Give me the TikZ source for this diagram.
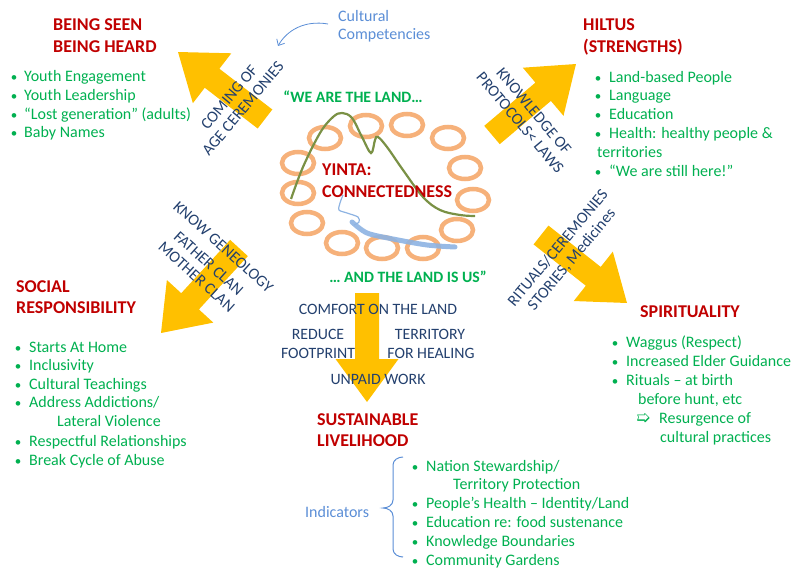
\documentclass[tikz,border=0pt]{standalone}
\usepackage{fontspec}
\setmainfont{Carlito}
\newfontfamily\symfont{DejaVu Sans}
\usetikzlibrary{calc,arrows.meta}
\definecolor{yel}{HTML}{FFC000}
\definecolor{hred}{HTML}{C00000}
\definecolor{grn}{HTML}{00B050}
\definecolor{navy}{HTML}{23406E}
\definecolor{lblue}{HTML}{5B8ED6}
\definecolor{ringc}{HTML}{F6B17A}
\definecolor{olivec}{HTML}{7A9145}
\definecolor{bluec}{HTML}{8DB3E2}
\tikzset{
  body/.style={text=grn, font=\fontsize{16}{19}\selectfont, inner sep=0pt, anchor=base west},
  bdot/.style={text=grn, font=\fontsize{13}{19}\selectfont, inner sep=0pt, anchor=base},
  head/.style={text=hred, font=\fontsize{18}{22}\selectfont\bfseries, inner sep=0pt, anchor=base west},
  rottxt/.style={text=navy, font=\fontsize{16}{18}\selectfont, inner sep=0pt, align=center},
  ctrtxt/.style={text=navy, font=\fontsize{15.8}{17}\selectfont, inner sep=0pt, anchor=base},
  quotetxt/.style={text=grn, font=\fontsize{15.8}{18}\selectfont\bfseries, inner sep=0pt, anchor=base},
  bluetxt/.style={text=lblue, font=\fontsize{16}{19}\selectfont, inner sep=0pt, anchor=base west},
  ring/.style={draw=ringc, line width=4.5pt},
  yarr/.style={fill=yel},
  ccarr/.style={draw=lblue, line width=0.8pt, -{Straight Barb[length=5pt,width=9pt]}},
  bracestyle/.style={draw=lblue, line width=1pt}
}
\newcommand\yarrow[2]{%
  \path let \p1=($(#2)-(#1)$) in \pgfextra{%
    \pgfmathsetmacro\yang{atan2(\y1,\x1)}%
    \pgfmathsetmacro\ylen{veclen(\x1,\y1)}%
    \global\let\yang\yang\global\let\ylen\ylen};
  \fill[yarr, shift={(#1)}, rotate=\yang]
    (0,12) -- ({\ylen-43},12) -- ({\ylen-43},31.5) -- (\ylen,0)
    -- ({\ylen-43},-31.5) -- ({\ylen-43},-12) -- (0,-12) -- cycle;}
\newcommand\bitem[5]{%
  \node[bdot] (#1b) at (#2,#4) {•};
  \node[body] (#1) at (#3,#4) {#5};}
\begin{document}
\begin{tikzpicture}[x=1pt,y=-1pt]
\useasboundingbox (0,0) rectangle (791,569);
% ---- yellow block arrows
\coordinate (t1) at (265,119); \coordinate (p1) at (178,52);
\coordinate (t2) at (492,135); \coordinate (p2) at (576,64);
\coordinate (t3) at (239,248); \coordinate (p3) at (161,333);
\coordinate (t4) at (541,235); \coordinate (p4) at (627,303);
\coordinate (t5) at (367,293); \coordinate (p5) at (367,402);
\yarrow{t1}{p1}
\yarrow{t2}{p2}
\yarrow{t3}{p3}
\yarrow{t4}{p4}
\yarrow{t5}{p5}
% ---- rings
\foreach \x/\y in {325/138, 366/126, 407/125, 448/138, 465/168, 473/200, 457/230,
                   423/248, 382/248, 342/243, 307/223, 298/193, 298/163}
  \draw[ring] (\x,\y) ellipse [x radius=16, y radius=11];
% ---- land curve
\draw[olivec, line width=2.2pt] plot[smooth, tension=0.6] coordinates {(291,199) (303,167) (320,133) (333,117) (342,113) (352,118) (362,137) (371,153) (375,140) (378,137) (387,147) (403,170) (423,197) (440,210) (460,215) (475,216)};
% ---- water
\draw[bluec, line width=1.2pt] plot[smooth] coordinates {(343,195) (340,203) (339,210) (347,213) (358,217) (359,222) (354,225)};
\draw[bluec, line width=5pt, line cap=round, opacity=.9] plot[smooth] coordinates {(352,222) (367,233) (393,239) (427,245) (455,247)};
% ---- centre texts
\node[quotetxt] (we) at (353,103) {“WE ARE THE LAND…};
\node[quotetxt] (us) at (408,282) {… AND THE LAND IS US”};
\node[head] (yinta) at (322,176) {YINTA:};
\node[head] (conn) at (322,198) {CONNECTEDNESS};
% ---- cultural competencies
\node[bluetxt] (cc1) at (338,22) {Cultural};
\node[bluetxt] (cc2) at (338,40) {Competencies};
\coordinate (ccs) at (328,24);
\coordinate (cce) at (278,46);
\draw[ccarr] (ccs) .. controls (305,20) and (287,30) .. (cce);
% ---- rotated texts
\node[rottxt, rotate=50] (coming) at (236,103) {COMING OF\\AGE CEREMONIES};
\node[rottxt, rotate=-50] (knowl) at (527,117) {KNOWLEDGE OF\\PROTOCOLS< LAWS};
\node[rottxt, rotate=-42] (geneo) at (210,262) {KNOW GENEOLOGY\\[4pt]FATHER CLAN\\MOTHER CLAN};
\node[rottxt, rotate=50] (ritual) at (565,254) {RITUALS/CEREMONIES\\STORIES, Medicines};
% ---- down arrow texts
\node[ctrtxt] (comfort) at (378,314) {COMFORT ON THE LAND};
\node[ctrtxt] (reduce) at (318,339) {REDUCE};
\node[ctrtxt] (footp) at (318,358) {FOOTPRINT};
\node[ctrtxt] (terr) at (430,339) {TERRITORY};
\node[ctrtxt] (heal) at (431,358) {FOR HEALING};
\node[ctrtxt] (unpaid) at (378,384) {UNPAID WORK};
% ---- being seen
\node[head] (bs1) at (53,31) {BEING SEEN};
\node[head] (bs2) at (53,53) {BEING HEARD};
\bitem{y1}{14}{24}{82}{Youth Engagement}
\bitem{y2}{14}{24}{100.7}{Youth Leadership}
\bitem{y3}{14}{24}{119.4}{“Lost generation” (adults)}
\bitem{y4}{14}{24}{138}{Baby Names}
% ---- hiltus
\node[head] (h1) at (583,31) {HILTUS};
\node[head] (h2) at (583,53) {(STRENGTHS)};
\bitem{s1}{598}{609}{83}{Land-based People}
\bitem{s2}{598}{609}{101}{Language}
\bitem{s3}{598}{609}{120}{Education}
\bitem{s4}{598}{609}{139}{Health: healthy people \&}
\node[body] (s4b2) at (597,158) {territories};
\bitem{s5}{598}{609}{177}{“We are still here!”}
% ---- social responsibility
\node[head] (sr1) at (16,292) {SOCIAL};
\node[head] (sr2) at (16,313) {RESPONSIBILITY};
\bitem{r1}{18}{29}{352}{Starts At Home}
\bitem{r2}{18}{29}{370}{Inclusivity}
\bitem{r3}{18}{29}{389}{Cultural Teachings}
\bitem{r4}{18}{29}{407}{Address Addictions/}
\node[body] (r4b2) at (57,426) {Lateral Violence};
\bitem{r5}{18}{29}{446}{Respectful Relationships}
\bitem{r6}{18}{29}{465}{Break Cycle of Abuse}
% ---- spirituality
\node[head] (sp) at (640,317) {SPIRITUALITY};
\bitem{q1}{615}{626}{347}{Waggus (Respect)}
\bitem{q2}{615}{626}{366}{Increased Elder Guidance}
\bitem{q3}{615}{626}{385}{Rituals – at birth}
\node[body] (q3b2) at (638,404) {before hunt, etc};
\node[body, font=\symfont\fontsize{17}{19}\selectfont] (q4s) at (636,423) {➯};
\node[body] (q4) at (659,423) {Resurgence of};
\node[body] (q4b2) at (660,442) {cultural practices};
% ---- sustainable livelihood
\node[head] (sl1) at (317,425) {SUSTAINABLE};
\node[head] (sl2) at (317,446) {LIVELIHOOD};
\node[bluetxt] (ind) at (305,517) {Indicators};
\coordinate (brt) at (403,457);
\coordinate (brm) at (383,508);
\coordinate (brb) at (403,557);
\draw[bracestyle] (brt) to[out=180,in=90] (393,465) -- (393,500) to[out=-90,in=0] (brm)
  to[out=0,in=90] (393,516) -- (393,549) to[out=-90,in=180] (brb);
\bitem{i1}{415}{426}{471}{Nation Stewardship/}
\node[body] (i1b2) at (453,489) {Territory Protection};
\bitem{i2}{415}{426}{508}{People’s Health – Identity/Land}
\bitem{i3}{415}{426}{527}{Education re: food sustenance}
\bitem{i4}{415}{426}{546}{Knowledge Boundaries}
\bitem{i5}{415}{426}{565}{Community Gardens}
\end{tikzpicture}
\end{document}
